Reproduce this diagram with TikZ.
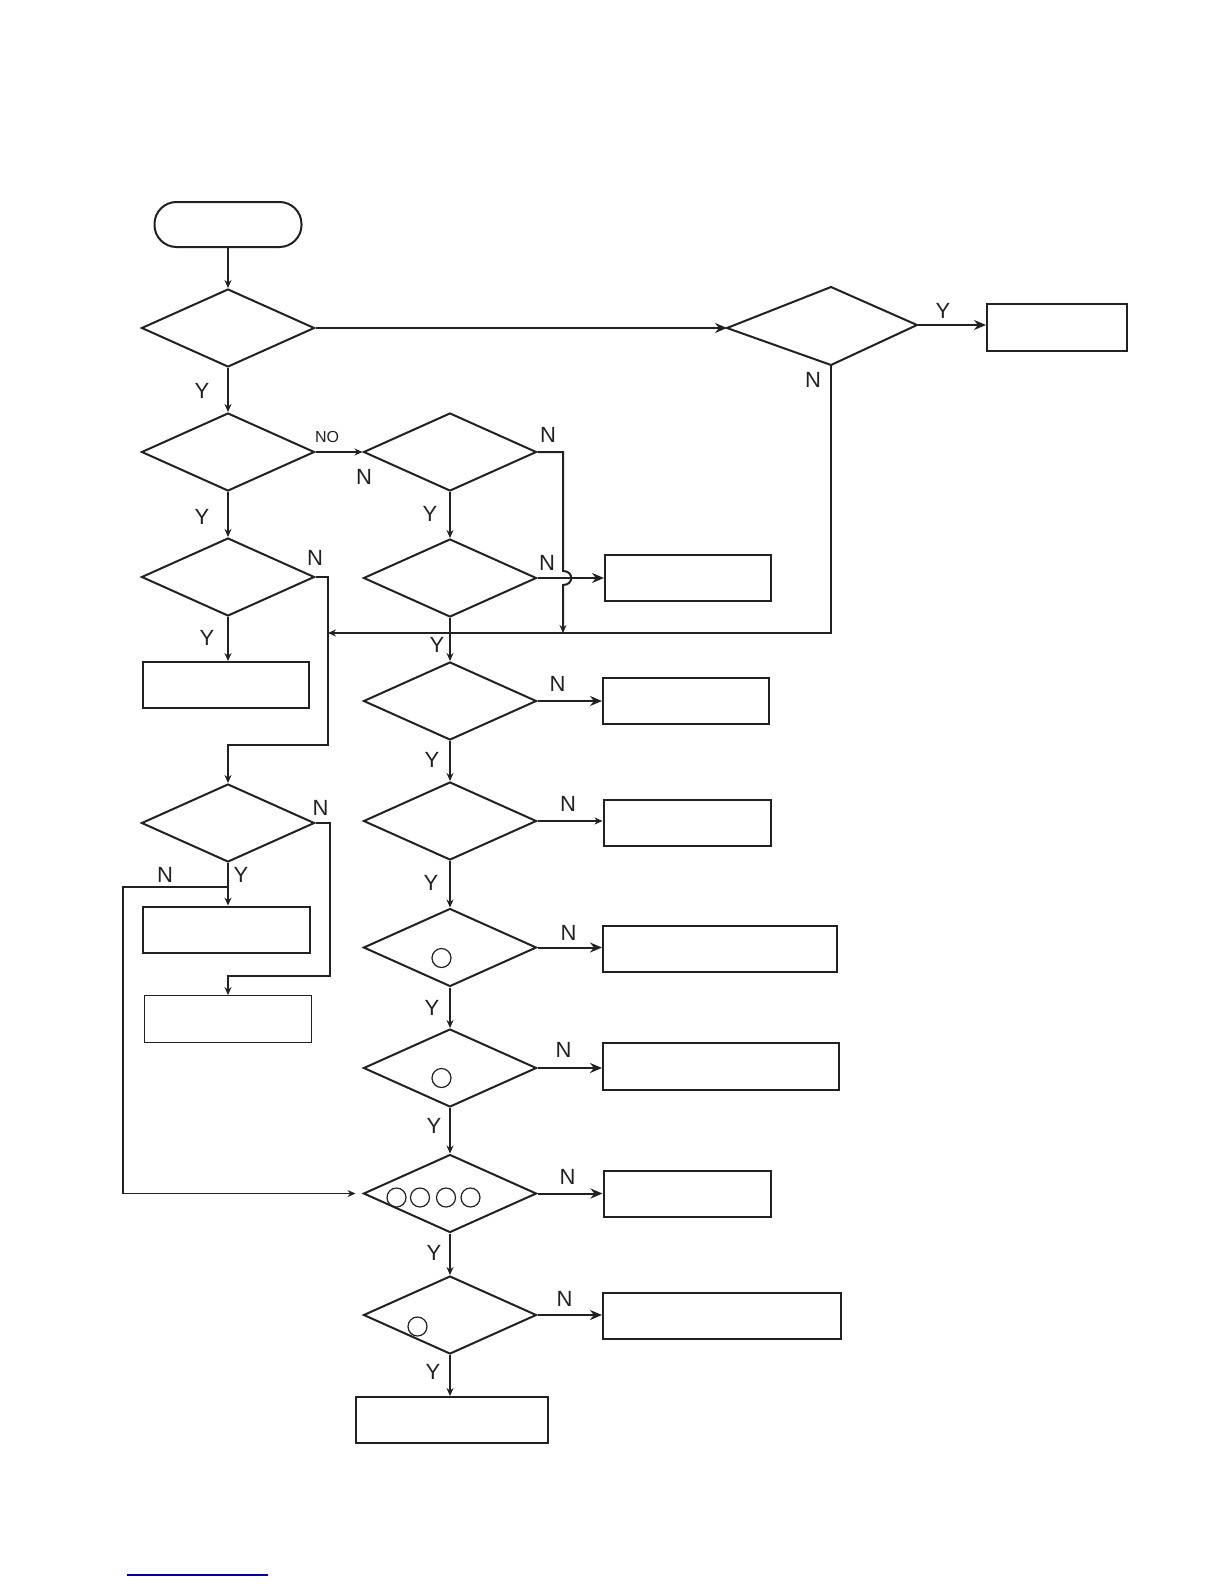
\documentclass[tikz,border=0pt]{standalone}
\usepackage{fontspec}
\setmainfont{Liberation Sans}
\usetikzlibrary{shapes.geometric,arrows.meta}
\definecolor{ink}{gray}{0.13}
\begin{document}
\begin{tikzpicture}[x=1pt,y=-1pt,
  every path/.style={line width=2pt},
  dec/.style={draw=ink,diamond,inner sep=0pt,minimum width=173pt,minimum height=78pt,line width=2pt},
  box/.style={draw=ink,rectangle,inner sep=0pt,line width=2pt},
  term/.style={draw=ink,rectangle,rounded corners=22pt,inner sep=0pt,line width=2pt},
  dot/.style={draw=ink,circle,inner sep=0pt,minimum size=19pt,line width=1.2pt},
  lbl/.style={font=\fontsize{22}{24}\selectfont,inner sep=0pt,text=ink},
  slbl/.style={font=\fontsize{16}{18}\selectfont,inner sep=0pt,text=ink},
  con/.style={draw=ink,line width=2pt},
  arr/.style={con,-{Stealth[length=12pt,width=10pt]}},
  sarr/.style={con,-{Stealth[length=8pt,width=7pt]}}]
\useasboundingbox (0,0) rectangle (1224,1584);
% nodes
\node[term,minimum width=147pt,minimum height=45pt] (start) at (228,224.5) {};
\node[dec] (d1) at (228,328) {};
\coordinate (dRw) at (727,328);
\coordinate (dRn) at (831,287);
\coordinate (dRe) at (917,325);
\coordinate (dRs) at (831,365);
\draw[draw=ink] (dRw) -- (dRn) -- (dRe) -- (dRs) -- cycle;
\node[box,minimum width=140pt,minimum height=47pt] (bR) at (1057,327.5) {};
\node[dec] (d2) at (228,452) {};
\node[dec] (d3) at (450,452) {};
\node[dec] (dL3) at (228,577) {};
\node[dec] (d5) at (450,578) {};
\node[box,minimum width=166pt,minimum height=46pt] (b5) at (688,578) {};
\node[box,minimum width=166pt,minimum height=46pt] (bL3) at (226,685) {};
\node[dec] (d6) at (450,701) {};
\node[box,minimum width=166pt,minimum height=46pt] (b6) at (686,701) {};
\node[dec] (d7) at (450,821) {};
\node[box,minimum width=167pt,minimum height=46pt] (b7) at (687,823) {};
\node[dec] (dL4) at (228,823) {};
\node[box,minimum width=167pt,minimum height=46.5pt,line width=2.4pt] (bA) at (226.5,930) {};
\node[box,minimum width=167pt,minimum height=46.5pt,line width=1.3pt] (bB) at (228,1019) {};
\node[dec] (d8) at (450,947.5) {};
\node[box,minimum width=234pt,minimum height=46pt] (b8) at (720,949) {};
\node[dec] (d9) at (450,1068) {};
\node[box,minimum width=236pt,minimum height=47pt] (b9) at (721,1066.5) {};
\node[dec] (d10) at (450,1193.5) {};
\node[box,minimum width=167pt,minimum height=46pt] (b10) at (687,1194) {};
\node[dec] (d11) at (450,1315) {};
\node[box,minimum width=238pt,minimum height=46pt] (b11) at (722,1316) {};
\node[box,minimum width=192pt,minimum height=46pt] (bEnd) at (451.5,1420) {};
% circles
\node[dot] (c8) at (441.5,958) {};
\node[dot] (c9) at (441.5,1078) {};
\node[dot] (c10a) at (396.5,1197.5) {};
\node[dot] (c10b) at (420,1197.5) {};
\node[dot] (c10c) at (446,1197.5) {};
\node[dot] (c10d) at (470.5,1197.5) {};
\node[dot] (c11) at (417.5,1326.5) {};
% junction coordinates
\coordinate (jR) at (831,633);
\coordinate (jM) at (328,633);
\coordinate (j3a) at (563,452);
\coordinate (j3b) at (563,633);
\coordinate (jL3a) at (328,577);
\coordinate (jL3b) at (328,745);
\coordinate (jL3c) at (228,745);
\coordinate (jL4a) at (330,823);
\coordinate (jL4b) at (330,976);
\coordinate (jL4c) at (228,976);
\coordinate (jN) at (228,887);
\coordinate (jNa) at (123,887);
\coordinate (jNb) at (123,1193.5);
\coordinate (bl1) at (127,1575);
\coordinate (bl2) at (268,1575);
% connectors
\draw[sarr] (start.south) -- (d1.north);
\draw[arr] (d1.east) -- (dRw);
\draw[arr] (dRe) -- (dRe -| bR.west);
\draw[sarr] (dRs) -- (jR) -- (jM);
\draw[sarr] (d1.south) -- (d2.north);
\draw[sarr] (d2.east) -- (d3.west);
\draw[sarr] (d3.south) -- (d5.north);
\draw[sarr] (d3.east) -- (j3a) -- (563,571) .. controls (574,571) and (574,585) .. (563,585) -- (j3b);
\draw[arr] (d5.east) -- (d5.east -| b5.west);
\draw[sarr] (d5.south) -- (d6.north);
\draw[sarr] (d2.south) -- (dL3.north);
\draw[sarr] (dL3.east) -- (jL3a) -- (jL3b) -- (jL3c) -- (dL4.north);
\draw[sarr] (dL3.south) -- (dL3.south |- bL3.north);
\draw[sarr] (dL4.east) -- (jL4a) -- (jL4b) -- (jL4c) -- (jL4c |- bB.north);
\draw[sarr] (dL4.south) -- (dL4.south |- bA.north);
\draw[sarr,line width=1.3pt,shorten >=7pt] (jN) -- (jNa) -- (jNb) -- (d10.west);
\draw[arr] (d6.east) -- (d6.east -| b6.west);
\draw[sarr] (d6.south) -- (d7.north);
\draw[sarr,line width=1.3pt] (d7.east) -- (d7.east -| b7.west);
\draw[sarr] (d7.south) -- (d8.north);
\draw[arr] (d8.east) -- (d8.east -| b8.west);
\draw[sarr] (d8.south) -- (d9.north);
\draw[arr] (d9.east) -- (d9.east -| b9.west);
\draw[sarr] (d9.south) -- (d10.north);
\draw[arr] (d10.east) -- (d10.east -| b10.west);
\draw[sarr] (d10.south) -- (d11.north);
\draw[arr] (d11.east) -- (d11.east -| b11.west);
\draw[sarr] (d11.south) -- (d11.south |- bEnd.north);
\draw[draw=blue!60!black,line width=1.8pt] (bl1) -- (bl2);
% labels
\node[lbl] (l1) at (202,391) {Y};
\node[lbl] (l2) at (202,517) {Y};
\node[slbl] (l3) at (327,437) {NO};
\node[lbl] (l4) at (364,477) {N};
\node[lbl] (l5) at (548,435) {N};
\node[lbl] (l6) at (430,514) {Y};
\node[lbl] (l7) at (547,563) {N};
\node[lbl] (l8) at (437,645) {Y};
\node[lbl] (l9) at (315,558) {N};
\node[lbl] (l10) at (207,638) {Y};
\node[lbl] (l11) at (943,311) {Y};
\node[lbl] (l12) at (813,380) {N};
\node[lbl] (l13) at (557.5,684) {N};
\node[lbl] (l14) at (432,759.5) {Y};
\node[lbl] (l15) at (568,804) {N};
\node[lbl] (l16) at (431,882.5) {Y};
\node[lbl] (l17) at (320.5,808) {N};
\node[lbl] (l18) at (241,875) {Y};
\node[lbl] (l19) at (165,875) {N};
\node[lbl] (l20) at (568.5,933) {N};
\node[lbl] (l21) at (432,1008) {Y};
\node[lbl] (l22) at (563.5,1050) {N};
\node[lbl] (l23) at (434,1126) {Y};
\node[lbl] (l24) at (567.5,1176.5) {N};
\node[lbl] (l25) at (434,1253) {Y};
\node[lbl] (l26) at (564.5,1299) {N};
\node[lbl] (l27) at (433,1371.5) {Y};
\end{tikzpicture}
\end{document}
